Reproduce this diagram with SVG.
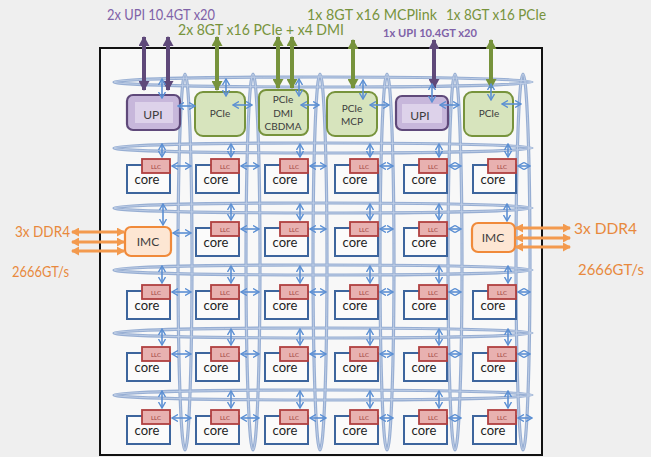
<svg xmlns="http://www.w3.org/2000/svg" width="651" height="457" viewBox="0 0 651 457">
<style>
text{font-family:Lato,"Liberation Sans",sans-serif}
.ring{fill:none;stroke:#6f90c4;stroke-width:3.2;opacity:.7}
.ringi{fill:none;stroke:#d3deef;stroke-width:0.9;opacity:.7}
.ba{stroke:#5b8fd3;stroke-width:1.6;fill:none;marker-start:url(#bh);marker-end:url(#bh)}
.pu{stroke:#5f497a;stroke-width:4;marker-start:url(#ph);marker-end:url(#ph)}
.gr{stroke:#77933c;stroke-width:4;marker-start:url(#gh);marker-end:url(#gh)}
.or{stroke:#f39a4e;stroke-width:3;marker-start:url(#oh);marker-end:url(#oh)}
.core{fill:#fbfbfb;stroke:#3d659d;stroke-width:2}
.llc{fill:#e8b1b0;stroke:#b04040;stroke-width:1.8}
.llct{font-size:6px;fill:#9a3b39;text-anchor:middle}
.coret{font-size:13px;fill:#1e1e1e;text-anchor:middle}
.pcie{fill:#d7e4bd;stroke:#77933c;stroke-width:2}
.upi{fill:#c7b7db;stroke:#5f497a;stroke-width:2.2}
.upii{fill:#ddd2ea}
.imc{fill:#fde6d3;stroke:#f08a3a;stroke-width:2.2}
.nt{font-size:11px;fill:#3c3c3c;text-anchor:middle}
.hg{font-size:15px;fill:#77933c}
.hp{font-size:15px;fill:#7f62a8}
.ho{font-size:15px;fill:#e8893d}
</style>
<defs>
<marker id="bh" viewBox="0 0 7 8" refX="6" refY="4" markerWidth="7" markerHeight="8" markerUnits="userSpaceOnUse" orient="auto-start-reverse"><path d="M0,0.5 L6,4 L0,7.5" fill="none" stroke="#5b8fd3" stroke-width="1.4"/></marker>
<marker id="ph" viewBox="0 0 10 11" refX="9" refY="5.5" markerWidth="10" markerHeight="11" markerUnits="userSpaceOnUse" orient="auto-start-reverse"><path d="M0,0 L10,5.5 L0,11 Z" fill="#5f497a"/></marker>
<marker id="gh" viewBox="0 0 10 11" refX="9" refY="5.5" markerWidth="10" markerHeight="11" markerUnits="userSpaceOnUse" orient="auto-start-reverse"><path d="M0,0 L10,5.5 L0,11 Z" fill="#77933c"/></marker>
<marker id="oh" viewBox="0 0 8 9" refX="7" refY="4.5" markerWidth="8" markerHeight="9" markerUnits="userSpaceOnUse" orient="auto-start-reverse"><path d="M0,0 L8,4.5 L0,9 Z" fill="#f39a4e"/></marker>
</defs>
<rect width="651" height="457" fill="#efefef"/>
<rect x="100" y="48" width="442" height="407" fill="#f8f8f8" stroke="#111" stroke-width="2"/>

<g id="labels">
<text class="hp" x="107" y="20" textLength="108" lengthAdjust="spacingAndGlyphs">2x UPI 10.4GT x20</text>
<text class="hg" x="178" y="35" textLength="166" lengthAdjust="spacingAndGlyphs">2x 8GT x16 PCIe + x4 DMI</text>
<text class="hg" x="307" y="20" textLength="130" lengthAdjust="spacingAndGlyphs">1x 8GT x16 MCPlink</text>
<text class="hg" x="446" y="20" textLength="100" lengthAdjust="spacingAndGlyphs">1x 8GT x16 PCIe</text>
<text class="hp" x="383" y="37" style="font-size:11px;font-weight:bold" textLength="94" lengthAdjust="spacingAndGlyphs">1x UPI 10.4GT x20</text>
<text class="ho" x="15" y="237" textLength="55" lengthAdjust="spacingAndGlyphs">3x DDR4</text>
<text class="ho" x="12" y="277" textLength="57" lengthAdjust="spacingAndGlyphs">2666GT/s</text>
<text class="ho" x="574" y="234" textLength="63" lengthAdjust="spacingAndGlyphs">3x DDR4</text>
<text class="ho" x="578" y="275" textLength="66" lengthAdjust="spacingAndGlyphs">2666GT/s</text>
</g>

<g id="rings">
<g class="ring">
<ellipse cx="185" cy="262" rx="7" ry="188"/>
<ellipse cx="253" cy="262" rx="7" ry="188"/>
<ellipse cx="320" cy="262" rx="7" ry="188"/>
<ellipse cx="387" cy="262" rx="7" ry="188"/>
<ellipse cx="455" cy="262" rx="7" ry="188"/>
<ellipse cx="523" cy="262" rx="7" ry="188"/>
<ellipse cx="323" cy="82" rx="209" ry="5"/>
<ellipse cx="323" cy="148" rx="209" ry="5"/>
<ellipse cx="323" cy="208" rx="209" ry="5"/>
<ellipse cx="323" cy="270" rx="209" ry="5"/>
<ellipse cx="323" cy="333" rx="209" ry="5"/>
<ellipse cx="323" cy="395" rx="209" ry="5"/>
</g>
<g class="ringi">
<ellipse cx="185" cy="262" rx="7" ry="188"/>
<ellipse cx="253" cy="262" rx="7" ry="188"/>
<ellipse cx="320" cy="262" rx="7" ry="188"/>
<ellipse cx="387" cy="262" rx="7" ry="188"/>
<ellipse cx="455" cy="262" rx="7" ry="188"/>
<ellipse cx="523" cy="262" rx="7" ry="188"/>
<ellipse cx="323" cy="82" rx="209" ry="5"/>
<ellipse cx="323" cy="148" rx="209" ry="5"/>
<ellipse cx="323" cy="208" rx="209" ry="5"/>
<ellipse cx="323" cy="270" rx="209" ry="5"/>
<ellipse cx="323" cy="333" rx="209" ry="5"/>
<ellipse cx="323" cy="395" rx="209" ry="5"/>
</g>
</g>

<g id="n-upi1"><rect class="upi" x="127" y="95" width="53" height="35" rx="6"/><rect class="upii" x="135" y="102" width="38" height="21"/><text class="nt" x="153" y="119" style="font-size:12px">UPI</text></g>
<g id="n-pcie2"><rect class="pcie" x="195" y="92" width="50" height="44" rx="8"/><text class="nt" x="220" y="117" style="font-size:10px">PCIe</text></g>
<g id="n-pcie3"><rect class="pcie" x="259" y="90" width="49" height="45" rx="7"/><text class="nt" x="283" y="103" style="font-size:10px">PCIe</text><text class="nt" x="283" y="117" style="font-size:10px">DMI</text><text class="nt" x="283" y="130" style="font-size:10px">CBDMA</text></g>
<g id="n-pcie4"><rect class="pcie" x="327" y="92" width="50" height="44" rx="8"/><text class="nt" x="352" y="112" style="font-size:10px">PCIe</text><text class="nt" x="352" y="125" style="font-size:10px">MCP</text></g>
<g id="n-upi5"><rect class="upi" x="396" y="96" width="52" height="34" rx="6"/><rect class="upii" x="402" y="104" width="40" height="19"/><text class="nt" x="420" y="120" style="font-size:12px">UPI</text></g>
<g id="n-pcie6"><rect class="pcie" x="464" y="92" width="49" height="44" rx="8"/><text class="nt" x="489" y="117" style="font-size:10px">PCIe</text></g>

<g id="n-imc-l"><rect class="imc" x="125" y="227" width="46" height="29" rx="6"/><text class="nt" x="148" y="246" style="font-size:12px">IMC</text></g>
<g id="n-imc-r"><rect class="imc" x="472" y="223" width="43" height="29" rx="6"/><text class="nt" x="493" y="242" style="font-size:12px">IMC</text></g>

<g id="cores">
<g id="c-0-0"><rect class="core" x="127" y="165" width="43" height="28"/><rect class="llc" x="142" y="159" width="28" height="14"/><text class="llct" x="156" y="168.5">LLC</text><text class="coret" x="147" y="184">core</text></g>
<g id="c-0-1"><rect class="core" x="196" y="165" width="43" height="28"/><rect class="llc" x="211" y="159" width="28" height="14"/><text class="llct" x="225" y="168.5">LLC</text><text class="coret" x="216" y="184">core</text></g>
<g id="c-0-2"><rect class="core" x="265" y="165" width="43" height="28"/><rect class="llc" x="280" y="159" width="28" height="14"/><text class="llct" x="294" y="168.5">LLC</text><text class="coret" x="285" y="184">core</text></g>
<g id="c-0-3"><rect class="core" x="335" y="165" width="43" height="28"/><rect class="llc" x="350" y="159" width="28" height="14"/><text class="llct" x="364" y="168.5">LLC</text><text class="coret" x="355" y="184">core</text></g>
<g id="c-0-4"><rect class="core" x="404" y="165" width="43" height="28"/><rect class="llc" x="419" y="159" width="28" height="14"/><text class="llct" x="433" y="168.5">LLC</text><text class="coret" x="424" y="184">core</text></g>
<g id="c-0-5"><rect class="core" x="473" y="165" width="43" height="28"/><rect class="llc" x="488" y="159" width="28" height="14"/><text class="llct" x="502" y="168.5">LLC</text><text class="coret" x="493" y="184">core</text></g>

<g id="c-1-1"><rect class="core" x="196" y="228" width="43" height="28"/><rect class="llc" x="211" y="222" width="28" height="14"/><text class="llct" x="225" y="231.5">LLC</text><text class="coret" x="216" y="247">core</text></g>
<g id="c-1-2"><rect class="core" x="265" y="228" width="43" height="28"/><rect class="llc" x="280" y="222" width="28" height="14"/><text class="llct" x="294" y="231.5">LLC</text><text class="coret" x="285" y="247">core</text></g>
<g id="c-1-3"><rect class="core" x="335" y="228" width="43" height="28"/><rect class="llc" x="350" y="222" width="28" height="14"/><text class="llct" x="364" y="231.5">LLC</text><text class="coret" x="355" y="247">core</text></g>
<g id="c-1-4"><rect class="core" x="404" y="228" width="43" height="28"/><rect class="llc" x="419" y="222" width="28" height="14"/><text class="llct" x="433" y="231.5">LLC</text><text class="coret" x="424" y="247">core</text></g>

<g id="c-2-0"><rect class="core" x="127" y="291" width="43" height="28"/><rect class="llc" x="142" y="285" width="28" height="14"/><text class="llct" x="156" y="294.5">LLC</text><text class="coret" x="147" y="310">core</text></g>
<g id="c-2-1"><rect class="core" x="196" y="291" width="43" height="28"/><rect class="llc" x="211" y="285" width="28" height="14"/><text class="llct" x="225" y="294.5">LLC</text><text class="coret" x="216" y="310">core</text></g>
<g id="c-2-2"><rect class="core" x="265" y="291" width="43" height="28"/><rect class="llc" x="280" y="285" width="28" height="14"/><text class="llct" x="294" y="294.5">LLC</text><text class="coret" x="285" y="310">core</text></g>
<g id="c-2-3"><rect class="core" x="335" y="291" width="43" height="28"/><rect class="llc" x="350" y="285" width="28" height="14"/><text class="llct" x="364" y="294.5">LLC</text><text class="coret" x="355" y="310">core</text></g>
<g id="c-2-4"><rect class="core" x="404" y="291" width="43" height="28"/><rect class="llc" x="419" y="285" width="28" height="14"/><text class="llct" x="433" y="294.5">LLC</text><text class="coret" x="424" y="310">core</text></g>
<g id="c-2-5"><rect class="core" x="473" y="291" width="43" height="28"/><rect class="llc" x="488" y="285" width="28" height="14"/><text class="llct" x="502" y="294.5">LLC</text><text class="coret" x="493" y="310">core</text></g>

<g id="c-3-0"><rect class="core" x="127" y="353" width="43" height="28"/><rect class="llc" x="142" y="347" width="28" height="14"/><text class="llct" x="156" y="356.5">LLC</text><text class="coret" x="147" y="372">core</text></g>
<g id="c-3-1"><rect class="core" x="196" y="353" width="43" height="28"/><rect class="llc" x="211" y="347" width="28" height="14"/><text class="llct" x="225" y="356.5">LLC</text><text class="coret" x="216" y="372">core</text></g>
<g id="c-3-2"><rect class="core" x="265" y="353" width="43" height="28"/><rect class="llc" x="280" y="347" width="28" height="14"/><text class="llct" x="294" y="356.5">LLC</text><text class="coret" x="285" y="372">core</text></g>
<g id="c-3-3"><rect class="core" x="335" y="353" width="43" height="28"/><rect class="llc" x="350" y="347" width="28" height="14"/><text class="llct" x="364" y="356.5">LLC</text><text class="coret" x="355" y="372">core</text></g>
<g id="c-3-4"><rect class="core" x="404" y="353" width="43" height="28"/><rect class="llc" x="419" y="347" width="28" height="14"/><text class="llct" x="433" y="356.5">LLC</text><text class="coret" x="424" y="372">core</text></g>
<g id="c-3-5"><rect class="core" x="473" y="353" width="43" height="28"/><rect class="llc" x="488" y="347" width="28" height="14"/><text class="llct" x="502" y="356.5">LLC</text><text class="coret" x="493" y="372">core</text></g>

<g id="c-4-0"><rect class="core" x="127" y="416" width="43" height="28"/><rect class="llc" x="142" y="410" width="28" height="14"/><text class="llct" x="156" y="419.5">LLC</text><text class="coret" x="147" y="435">core</text></g>
<g id="c-4-1"><rect class="core" x="196" y="416" width="43" height="28"/><rect class="llc" x="211" y="410" width="28" height="14"/><text class="llct" x="225" y="419.5">LLC</text><text class="coret" x="216" y="435">core</text></g>
<g id="c-4-2"><rect class="core" x="265" y="416" width="43" height="28"/><rect class="llc" x="280" y="410" width="28" height="14"/><text class="llct" x="294" y="419.5">LLC</text><text class="coret" x="285" y="435">core</text></g>
<g id="c-4-3"><rect class="core" x="335" y="416" width="43" height="28"/><rect class="llc" x="350" y="410" width="28" height="14"/><text class="llct" x="364" y="419.5">LLC</text><text class="coret" x="355" y="435">core</text></g>
<g id="c-4-4"><rect class="core" x="404" y="416" width="43" height="28"/><rect class="llc" x="419" y="410" width="28" height="14"/><text class="llct" x="433" y="419.5">LLC</text><text class="coret" x="424" y="435">core</text></g>
<g id="c-4-5"><rect class="core" x="473" y="416" width="43" height="28"/><rect class="llc" x="488" y="410" width="28" height="14"/><text class="llct" x="502" y="419.5">LLC</text><text class="coret" x="493" y="435">core</text></g>
</g>

<g id="connectors">
<line class="pu" x1="144" y1="37" x2="144" y2="90"/>
<line class="pu" x1="168" y1="37" x2="168" y2="90"/>
<line class="gr" x1="217" y1="37" x2="217" y2="90"/>
<line class="gr" x1="278" y1="37" x2="278" y2="88"/>
<line class="gr" x1="292" y1="37" x2="292" y2="88"/>
<line class="gr" x1="353" y1="40" x2="353" y2="88"/>
<line class="pu" x1="434" y1="40" x2="434" y2="88"/>
<line class="gr" x1="491" y1="40" x2="491" y2="88"/>
<line class="or" x1="72" y1="232" x2="124" y2="232"/>
<line class="or" x1="72" y1="242" x2="124" y2="242"/>
<line class="or" x1="72" y1="251" x2="124" y2="251"/>
<line class="or" x1="516" y1="228" x2="570" y2="228"/>
<line class="or" x1="516" y1="238" x2="570" y2="238"/>
<line class="or" x1="516" y1="247" x2="570" y2="247"/>
<line class="ba" x1="162" y1="79" x2="162" y2="98"/>
<line class="ba" x1="178" y1="106" x2="195" y2="106"/>
<line class="ba" x1="226" y1="79" x2="226" y2="96"/>
<line class="ba" x1="233" y1="105" x2="252" y2="105"/>
<line class="ba" x1="299" y1="79" x2="299" y2="96"/>
<line class="ba" x1="301" y1="105" x2="319" y2="105"/>
<line class="ba" x1="363" y1="80" x2="363" y2="99"/>
<line class="ba" x1="370" y1="105" x2="389" y2="105"/>
<line class="ba" x1="432" y1="84" x2="432" y2="102"/>
<line class="ba" x1="440" y1="105" x2="459" y2="105"/>
<line class="ba" x1="491" y1="84" x2="491" y2="100"/>
<line class="ba" x1="502" y1="104" x2="521" y2="104"/>
<line class="ba" x1="163" y1="204" x2="163" y2="225"/>
<line class="ba" x1="173" y1="233" x2="191" y2="233"/>
<line class="ba" x1="507" y1="204" x2="507" y2="221"/>
<line class="ba" x1="162" y1="144" x2="162" y2="157"/><line class="ba" x1="172" y1="166" x2="191" y2="166"/>
<line class="ba" x1="231" y1="144" x2="231" y2="157"/><line class="ba" x1="241" y1="166" x2="259" y2="166"/>
<line class="ba" x1="300" y1="144" x2="300" y2="157"/><line class="ba" x1="310" y1="166" x2="326" y2="166"/>
<line class="ba" x1="370" y1="144" x2="370" y2="157"/><line class="ba" x1="380" y1="166" x2="393" y2="166"/>
<line class="ba" x1="439" y1="144" x2="439" y2="157"/><line class="ba" x1="449" y1="166" x2="461" y2="166"/>
<line class="ba" x1="508" y1="144" x2="508" y2="157"/><line class="ba" x1="518" y1="166" x2="530" y2="166"/>
<line class="ba" x1="231" y1="204" x2="231" y2="220"/><line class="ba" x1="241" y1="229" x2="259" y2="229"/>
<line class="ba" x1="300" y1="204" x2="300" y2="220"/><line class="ba" x1="310" y1="229" x2="326" y2="229"/>
<line class="ba" x1="370" y1="204" x2="370" y2="220"/><line class="ba" x1="380" y1="229" x2="393" y2="229"/>
<line class="ba" x1="439" y1="204" x2="439" y2="220"/><line class="ba" x1="449" y1="229" x2="461" y2="229"/>
<line class="ba" x1="162" y1="266" x2="162" y2="283"/><line class="ba" x1="172" y1="292" x2="191" y2="292"/>
<line class="ba" x1="231" y1="266" x2="231" y2="283"/><line class="ba" x1="241" y1="292" x2="259" y2="292"/>
<line class="ba" x1="300" y1="266" x2="300" y2="283"/><line class="ba" x1="310" y1="292" x2="326" y2="292"/>
<line class="ba" x1="370" y1="266" x2="370" y2="283"/><line class="ba" x1="380" y1="292" x2="393" y2="292"/>
<line class="ba" x1="439" y1="266" x2="439" y2="283"/><line class="ba" x1="449" y1="292" x2="461" y2="292"/>
<line class="ba" x1="508" y1="266" x2="508" y2="283"/><line class="ba" x1="518" y1="292" x2="530" y2="292"/>
<line class="ba" x1="162" y1="329" x2="162" y2="345"/><line class="ba" x1="172" y1="354" x2="191" y2="354"/>
<line class="ba" x1="231" y1="329" x2="231" y2="345"/><line class="ba" x1="241" y1="354" x2="259" y2="354"/>
<line class="ba" x1="300" y1="329" x2="300" y2="345"/><line class="ba" x1="310" y1="354" x2="326" y2="354"/>
<line class="ba" x1="370" y1="329" x2="370" y2="345"/><line class="ba" x1="380" y1="354" x2="393" y2="354"/>
<line class="ba" x1="439" y1="329" x2="439" y2="345"/><line class="ba" x1="449" y1="354" x2="461" y2="354"/>
<line class="ba" x1="508" y1="329" x2="508" y2="345"/><line class="ba" x1="518" y1="354" x2="530" y2="354"/>
<line class="ba" x1="162" y1="391" x2="162" y2="408"/><line class="ba" x1="172" y1="418" x2="191" y2="418"/>
<line class="ba" x1="231" y1="391" x2="231" y2="408"/><line class="ba" x1="241" y1="418" x2="259" y2="418"/>
<line class="ba" x1="300" y1="391" x2="300" y2="408"/><line class="ba" x1="310" y1="418" x2="326" y2="418"/>
<line class="ba" x1="370" y1="391" x2="370" y2="408"/><line class="ba" x1="380" y1="418" x2="393" y2="418"/>
<line class="ba" x1="439" y1="391" x2="439" y2="408"/><line class="ba" x1="449" y1="418" x2="461" y2="418"/>
<line class="ba" x1="508" y1="391" x2="508" y2="408"/><line class="ba" x1="518" y1="418" x2="532" y2="418"/>
</g>
</svg>
